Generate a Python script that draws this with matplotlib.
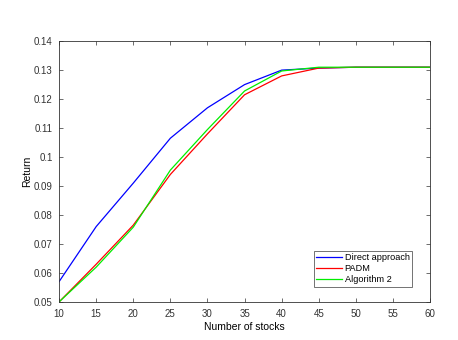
import numpy as np
import matplotlib.pyplot as plt

stocks = [10, 15, 20, 25, 30, 35, 40, 45, 50, 55, 60]
direct = [0.057, 0.076, 0.091, 0.1065, 0.117, 0.125, 0.130, 0.1307, 0.131, 0.131, 0.131]
padm = [0.050, 0.063, 0.0765, 0.094, 0.108, 0.1215, 0.128, 0.1307, 0.131, 0.131, 0.131]
alg2 = [0.050, 0.062, 0.0758, 0.0955, 0.1095, 0.1228, 0.1297, 0.131, 0.131, 0.131, 0.131]

plt.rcParams['font.family'] = ['Liberation Sans', 'DejaVu Sans']
fig = plt.figure(figsize=(4.58, 3.4), dpi=100)
ax = fig.add_axes([0.129, 0.112, 0.81, 0.767])

ax.plot(stocks, direct, color='blue', linewidth=0.9, label='Direct approach')
ax.plot(stocks, padm, color='red', linewidth=0.9, label='PADM')
ax.plot(stocks, alg2, color='#00ee00', linewidth=0.9, label='Algorithm 2')

ax.set_xlim(10, 60)
ax.set_ylim(0.05, 0.14)
ax.set_xticks(np.arange(10, 61, 5))
ax.set_yticks(np.arange(0.05, 0.1401, 0.01))
ax.set_yticklabels(['0.05', '0.06', '0.07', '0.08', '0.09', '0.1',
                    '0.11', '0.12', '0.13', '0.14'])
ax.tick_params(direction='in', top=True, right=True, labelsize=7,
               colors='#333333', length=3, width=0.5)
ax.tick_params(axis='x', pad=5)
ax.tick_params(axis='y', pad=4.5)
for s in ax.spines.values():
    s.set_linewidth(0.6)
    s.set_color('#333333')
ax.set_xlabel('Number of stocks', fontsize=7.5, labelpad=2)
ax.set_ylabel('Return', fontsize=7.5, labelpad=1)

leg = ax.legend(loc='lower right', bbox_to_anchor=(0.965, 0.04), fontsize=6.6,
                fancybox=False, edgecolor='#333333', handlelength=2.8,
                borderpad=0.3, labelspacing=0.2, handletextpad=0.3)
leg.get_frame().set_linewidth(0.6)

fig.savefig('out.png', dpi=100)
